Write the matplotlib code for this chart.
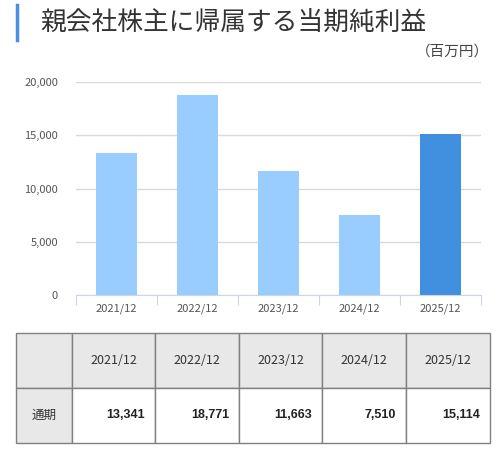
import matplotlib
matplotlib.use("Agg")
import matplotlib.pyplot as plt
from matplotlib.patches import Rectangle
from matplotlib.lines import Line2D

plt.rcParams['font.family'] = ['Noto Sans CJK JP', 'DejaVu Sans']

periods = ["2021/12", "2022/12", "2023/12", "2024/12", "2025/12"]
net_income = [13341, 18771, 11663, 7510, 15114]
row_label = "通期"
yticks = [0, 5000, 10000, 15000, 20000]

W, H = 497, 450
fig = plt.figure(figsize=(W / 100, H / 100), dpi=100)

# title with blue marker line
fig.add_artist(Line2D([17 / W, 17 / W], [1 - 5 / H, 1 - 40 / H], color="#4a90e2", lw=2.5))
fig.text(40 / W, 1 - 23 / H, "親会社株主に帰属する当期純利益", fontsize=18.5, color="#333333",
         va="center", ha="left")
fig.text(489 / W, 1 - 52 / H, "（百万円）", fontsize=10.5, color="#444444", va="center", ha="right")

# bar chart
ax = fig.add_axes([76 / W, 1 - 295 / H, (481 - 76) / W, (295 - 82) / H])
colors = ["#99ccff"] * (len(periods) - 1) + ["#4190e0"]
x = list(range(len(periods)))
ax.bar(x, net_income, width=0.5, color=colors, zorder=2)
ax.set_xlim(-0.5, len(periods) - 0.5)
ax.set_ylim(0, 20000)
ax.set_yticks(yticks)
ax.set_yticklabels(["{:,}".format(v) for v in yticks], fontsize=8, color="#555555")
ax.yaxis.grid(True, color="#d9d9d9", lw=1, zorder=0)
ax.tick_params(axis="y", length=0, pad=13)
for s in ["top", "right", "left"]:
    ax.spines[s].set_visible(False)
ax.spines["bottom"].set_color("#ccd6eb")
ax.set_xticks([i - 0.5 for i in range(len(periods) + 1)], minor=False)
ax.set_xticklabels([])
ax.set_xticks(x, minor=True)
ax.set_xticklabels(periods, minor=True, fontsize=8, color="#555555")
ax.tick_params(axis="x", which="major", length=7, color="#ccd6eb")
ax.tick_params(axis="x", which="minor", length=0, pad=6)

# table below
tab = fig.add_axes([0, 0, 1, 1])
tab.set_xlim(0, W)
tab.set_ylim(H, 0)
tab.axis("off")
col_edges = [16, 72, 155, 239, 322, 406, 490]
row_edges = [333, 388, 443]
border = "#808080"
for r in range(2):
    for c in range(len(col_edges) - 1):
        gray = r == 0 or c == 0
        tab.add_patch(Rectangle((col_edges[c], row_edges[r]), col_edges[c + 1] - col_edges[c],
                                row_edges[r + 1] - row_edges[r],
                                facecolor="#e8e8e8" if gray else "white",
                                edgecolor=border, lw=1))
for i, p in enumerate(periods):
    cx = (col_edges[i + 1] + col_edges[i + 2]) / 2
    tab.text(cx, (row_edges[0] + row_edges[1]) / 2, p, ha="center", va="center",
             fontsize=9, color="#333333")
    tab.text(col_edges[i + 2] - 10, (row_edges[1] + row_edges[2]) / 2, "{:,}".format(net_income[i]),
             ha="right", va="center", fontsize=9, fontweight="bold", color="#222222",
             family="Liberation Sans")
tab.text((col_edges[0] + col_edges[1]) / 2, (row_edges[1] + row_edges[2]) / 2, row_label,
         ha="center", va="center", fontsize=9, color="#333333")

fig.savefig("out.png", dpi=100)
